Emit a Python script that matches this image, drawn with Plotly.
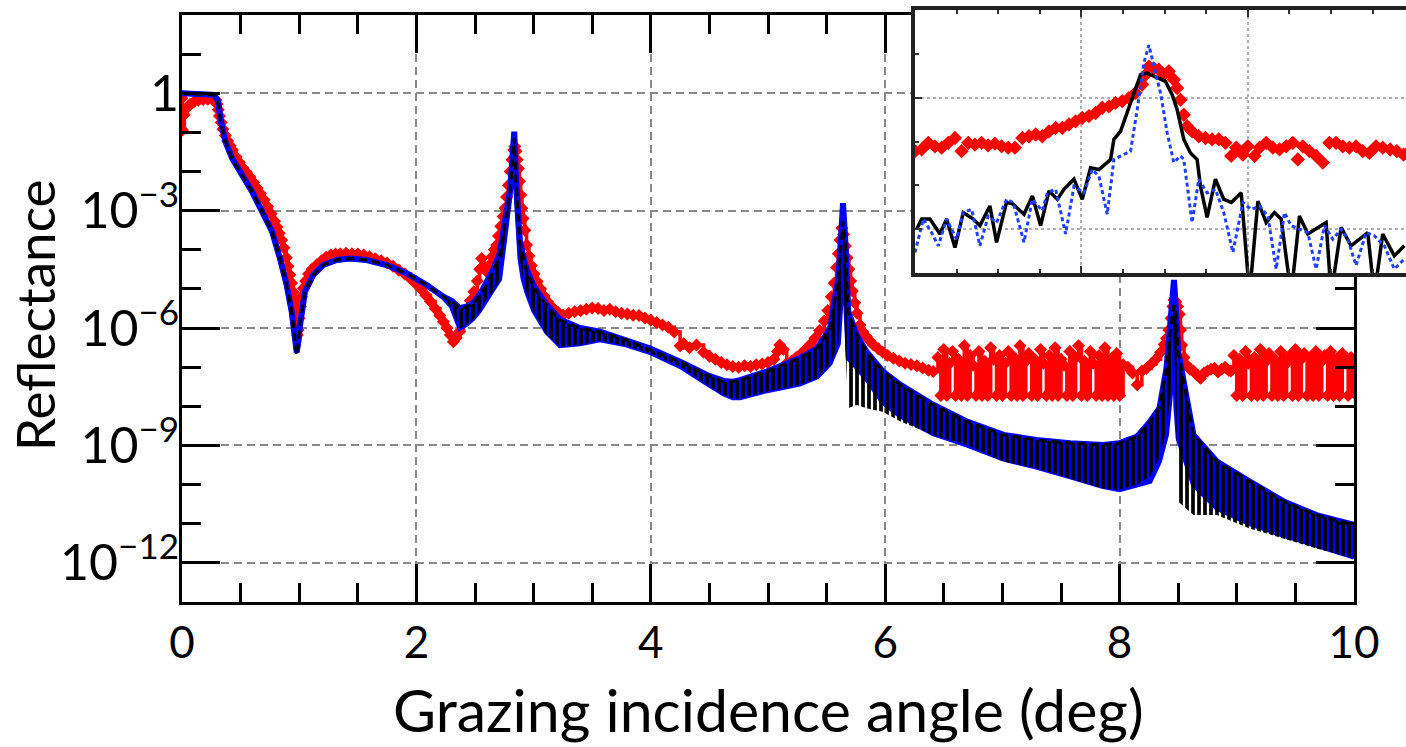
import plotly.graph_objects as go

# ---------------- data: (angle in deg, log10 reflectance) ----------------
# measured reflectance (red diamonds)
RED = [
    (0.000, -0.13), (0.004, -0.94), (0.02, -0.55), (0.04, -0.38), (0.07, -0.28), (0.10, -0.22),
    (0.14, -0.18), (0.18, -0.16), (0.22, -0.15), (0.26, -0.15), (0.29, -0.18), (0.30, -0.28),
    (0.31, -0.42), (0.32, -0.58), (0.335, -0.75), (0.35, -0.92), (0.37, -1.08), (0.39, -1.22),
    (0.41, -1.34), (0.43, -1.45), (0.46, -1.62), (0.49, -1.77), (0.52, -1.91), (0.55, -2.02),
    (0.58, -2.14), (0.61, -2.28), (0.64, -2.42), (0.67, -2.57), (0.70, -2.72), (0.73, -2.90),
    (0.76, -3.08), (0.79, -3.27), (0.81, -3.42), (0.83, -3.58), (0.85, -3.75), (0.87, -3.95),
    (0.89, -4.20), (0.905, -4.42), (0.92, -4.64), (0.935, -4.85), (0.95, -5.08), (0.96, -5.28),
    (0.97, -5.55), (0.98, -5.95), (0.985, -6.18), (0.99, -6.05), (1.00, -5.75), (1.01, -5.45),
    (1.02, -5.20), (1.035, -4.98), (1.055, -4.80), (1.08, -4.62), (1.11, -4.50), (1.15, -4.38),
    (1.19, -4.28), (1.23, -4.19), (1.27, -4.13), (1.31, -4.11), (1.35, -4.10), (1.40, -4.09),
    (1.45, -4.10), (1.50, -4.11), (1.55, -4.13), (1.60, -4.18), (1.65, -4.23), (1.70, -4.28),
    (1.75, -4.34), (1.80, -4.42), (1.85, -4.52), (1.90, -4.62), (1.95, -4.74), (2.00, -4.88),
    (2.04, -5.01), (2.08, -5.16), (2.12, -5.32), (2.16, -5.50), (2.20, -5.68), (2.23, -5.84),
    (2.26, -6.00), (2.29, -6.18), (2.315, -6.35), (2.34, -6.25), (2.37, -6.09), (2.40, -5.85),
    (2.43, -5.58), (2.46, -5.30), (2.49, -5.07), (2.52, -4.80), (2.54, -4.50), (2.557, -4.22),
    (2.575, -4.40), (2.60, -4.56), (2.62, -4.40), (2.645, -4.18), (2.665, -4.00), (2.685, -3.88),
    (2.70, -3.65), (2.72, -3.40), (2.74, -3.15), (2.756, -2.94), (2.77, -2.65), (2.785, -2.35),
    (2.80, -2.00), (2.815, -1.70), (2.83, -1.45), (2.84, -1.36), (2.85, -1.48), (2.86, -1.70),
    (2.87, -1.92), (2.88, -2.25), (2.89, -2.60), (2.90, -2.94), (2.91, -3.20), (2.925, -3.50),
    (2.94, -3.88), (2.96, -4.15), (2.98, -4.40), (3.005, -4.62), (3.03, -4.81), (3.06, -5.00),
    (3.09, -5.18), (3.12, -5.33), (3.15, -5.45), (3.18, -5.54), (3.21, -5.60), (3.25, -5.67),
    (3.30, -5.62), (3.35, -5.58), (3.40, -5.56), (3.45, -5.52), (3.50, -5.49), (3.55, -5.50),
    (3.60, -5.55), (3.65, -5.52), (3.70, -5.58), (3.75, -5.62), (3.80, -5.64), (3.85, -5.67),
    (3.90, -5.68), (3.95, -5.74), (4.00, -5.80), (4.05, -5.86), (4.10, -5.92), (4.15, -5.98),
    (4.20, -6.10), (4.25, -6.45), (4.28, -6.40), (4.33, -6.50), (4.39, -6.43), (4.45, -6.62),
    (4.50, -6.72), (4.55, -6.80), (4.60, -6.88), (4.65, -6.94), (4.70, -6.98), (4.75, -7.00),
    (4.80, -6.96), (4.85, -6.98), (4.90, -6.94), (4.95, -6.92), (5.00, -6.88), (5.05, -6.80),
    (5.08, -6.60), (5.10, -6.43), (5.13, -6.55), (5.16, -6.90), (5.20, -6.85), (5.24, -6.75),
    (5.28, -6.66), (5.32, -6.55), (5.36, -6.42), (5.40, -6.26), (5.44, -6.06), (5.48, -5.82),
    (5.51, -5.55), (5.54, -5.20), (5.565, -4.85), (5.585, -4.45), (5.60, -4.10), (5.615, -3.75),
    (5.63, -3.45), (5.645, -3.60), (5.66, -3.90), (5.675, -4.20), (5.69, -4.50), (5.705, -4.80),
    (5.72, -5.05), (5.74, -5.35), (5.76, -5.62), (5.785, -5.92), (5.81, -6.10), (5.84, -6.22),
    (5.87, -6.33), (5.90, -6.43), (5.94, -6.53), (5.98, -6.62), (6.02, -6.70), (6.07, -6.77),
    (6.12, -6.84), (6.17, -6.90), (6.22, -6.93), (6.27, -6.96), (6.32, -7.02), (6.37, -7.08),
    (6.41, -7.11),
    (6.450, -6.75), (6.475, -7.72), (6.500, -6.55), (6.525, -7.72), (6.550, -6.90), (6.575, -6.60),
    (6.600, -7.72), (6.625, -6.80), (6.650, -7.72), (6.675, -6.45), (6.700, -7.72), (6.725, -6.70),
    (6.750, -6.95), (6.775, -7.72), (6.800, -6.60), (6.825, -7.72), (6.850, -6.85), (6.875, -7.72),
    (6.900, -6.50), (6.925, -6.80), (6.950, -7.72), (6.975, -6.70), (7.000, -7.72), (7.025, -6.90),
    (7.050, -6.60), (7.075, -7.72), (7.100, -6.75), (7.125, -7.72), (7.150, -6.45), (7.175, -7.72),
    (7.200, -6.85), (7.225, -6.65), (7.250, -7.72), (7.275, -6.80), (7.300, -7.72), (7.325, -6.55),
    (7.350, -6.90), (7.375, -7.72), (7.400, -6.70), (7.425, -7.72), (7.450, -6.50), (7.475, -7.72),
    (7.500, -6.80), (7.525, -6.95), (7.550, -7.72), (7.575, -6.60), (7.600, -7.72), (7.625, -6.75),
    (7.650, -6.45), (7.675, -7.72), (7.700, -6.85), (7.725, -7.72), (7.750, -6.60), (7.775, -6.90),
    (7.800, -7.72), (7.825, -6.70), (7.850, -7.72), (7.875, -6.50), (7.900, -7.72), (7.925, -6.80),
    (7.950, -7.72), (7.975, -6.65), (8.000, -7.72),
    (8.03, -6.94), (8.07, -7.00), (8.11, -7.15), (8.15, -7.45), (8.19, -7.10), (8.23, -7.03),
    (8.27, -6.92), (8.31, -6.80), (8.35, -6.62), (8.38, -6.42), (8.40, -6.26), (8.42, -6.05),
    (8.44, -5.75), (8.455, -5.45), (8.465, -5.28), (8.48, -5.33), (8.495, -5.45), (8.51, -5.65),
    (8.52, -6.05), (8.53, -6.43), (8.55, -6.75), (8.57, -6.94), (8.60, -7.05), (8.63, -7.10),
    (8.66, -7.20), (8.69, -7.28), (8.72, -7.15), (8.75, -7.10), (8.78, -7.05), (8.81, -7.03),
    (8.84, -7.12), (8.87, -7.05), (8.90, -7.00), (8.93, -7.08), (8.95, -7.10),
    (8.975, -6.70), (9.000, -7.72), (9.025, -6.80), (9.050, -7.72), (9.075, -6.60), (9.100, -6.90),
    (9.125, -7.72), (9.150, -6.75), (9.175, -7.72), (9.200, -6.55), (9.225, -7.72), (9.250, -6.85),
    (9.275, -6.65), (9.300, -7.72), (9.325, -6.80), (9.350, -7.72), (9.375, -6.60), (9.400, -7.72),
    (9.425, -6.90), (9.450, -6.70), (9.475, -7.72), (9.500, -6.55), (9.525, -7.72), (9.550, -6.80),
    (9.575, -6.65), (9.600, -7.72), (9.625, -6.75), (9.650, -7.72), (9.675, -6.60), (9.700, -7.72),
    (9.725, -6.85), (9.750, -6.70), (9.775, -7.72), (9.800, -6.60), (9.825, -7.72), (9.850, -6.80),
    (9.875, -7.72), (9.900, -6.65), (9.925, -6.90), (9.950, -7.72), (9.975, -6.75), (10.0, -7.65),
]

# simulation 1 (blue, solid): (angle, upper envelope, lower envelope of the fringes)
BLUE = [
    (0.00, 0.00, 0.00), (0.10, -0.01, -0.01), (0.20, -0.02, -0.02), (0.27, -0.04, -0.04),
    (0.30, -0.15, -0.15), (0.313, -0.30, -0.30), (0.327, -0.64, -0.64), (0.341, -0.89, -0.89),
    (0.37, -1.23, -1.23), (0.427, -1.66, -1.66), (0.512, -2.09, -2.09), (0.597, -2.51, -2.51),
    (0.683, -3.02, -3.02), (0.768, -3.53, -3.53), (0.836, -4.22, -4.22), (0.893, -4.90, -4.90),
    (0.936, -5.58, -5.58), (0.964, -6.35, -6.35), (0.979, -6.62, -6.62), (0.995, -6.30, -6.30),
    (1.007, -5.92, -5.92), (1.049, -5.07, -5.07), (1.12, -4.64, -4.64), (1.206, -4.39, -4.39),
    (1.32, -4.26, -4.26), (1.433, -4.22, -4.22), (1.576, -4.26, -4.26), (1.746, -4.39, -4.39),
    (1.917, -4.60, -4.60), (2.088, -4.90, -4.90), (2.23, -5.20, -5.22),
    (2.30, -5.30, -5.45), (2.37, -5.49, -6.00), (2.43, -5.45, -5.90), (2.486, -5.35, -5.75),
    (2.54, -5.15, -5.55), (2.60, -4.85, -5.24), (2.656, -4.50, -5.00), (2.71, -4.10, -4.75),
    (2.742, -3.53, -3.95), (2.78, -2.90, -3.20), (2.80, -2.45, -2.60), (2.82, -1.60, -1.80),
    (2.835, -0.98, -1.30), (2.85, -2.20, -2.50), (2.87, -3.20, -3.60), (2.884, -3.80, -4.22),
    (2.91, -4.13, -4.73), (2.941, -4.50, -5.07), (3.00, -4.92, -5.55), (3.11, -5.40, -6.10),
    (3.225, -5.78, -6.45), (3.396, -6.00, -6.40), (3.567, -6.09, -6.30), (3.79, -6.30, -6.43),
    (3.99, -6.52, -6.62), (4.25, -6.86, -6.98), (4.48, -7.20, -7.42), (4.62, -7.35, -7.68),
    (4.70, -7.37, -7.78), (4.76, -7.33, -7.78), (4.99, -7.11, -7.60), (5.27, -6.77, -7.43),
    (5.42, -6.52, -7.25), (5.53, -6.00, -6.90), (5.60, -4.73, -6.40), (5.625, -3.60, -5.20),
    (5.64, -2.81, -3.80), (5.66, -3.80, -5.50), (5.685, -5.58, -6.77), (5.757, -6.18, -7.00),
    (5.84, -6.60, -7.30), (5.98, -7.11, -7.90), (6.13, -7.45, -8.25), (6.41, -7.96, -8.70),
    (6.70, -8.39, -8.99), (7.01, -8.73, -9.35), (7.29, -8.86, -9.55), (7.58, -8.94, -9.80),
    (7.86, -8.99, -10.05), (8.00, -8.94, -10.13), (8.15, -8.77, -10.00), (8.26, -8.39, -9.92),
    (8.34, -8.05, -9.41), (8.40, -7.03, -8.73), (8.44, -5.75, -7.50), (8.464, -4.77, -6.00),
    (8.48, -5.50, -8.00), (8.50, -6.60, -8.82), (8.63, -8.73, -10.00), (8.83, -9.41, -10.60),
    (9.11, -9.92, -11.00), (9.40, -10.43, -11.30), (9.68, -10.78, -11.55), (10.0, -11.03, -11.85),
]

# simulation 2 (black, dashed): (angle, upper envelope, lower envelope of the fringes)
BLACK = [
    (0.00, 0.00, 0.00), (0.10, -0.01, -0.01), (0.20, -0.02, -0.02), (0.27, -0.04, -0.04),
    (0.30, -0.15, -0.15), (0.313, -0.30, -0.30), (0.327, -0.64, -0.64), (0.341, -0.89, -0.89),
    (0.37, -1.23, -1.23), (0.427, -1.66, -1.66), (0.512, -2.09, -2.09), (0.597, -2.51, -2.51),
    (0.683, -3.02, -3.02), (0.768, -3.53, -3.53), (0.836, -4.22, -4.22), (0.893, -4.90, -4.90),
    (0.936, -5.58, -5.58), (0.964, -6.35, -6.35), (0.979, -6.69, -6.69), (0.995, -6.30, -6.30),
    (1.007, -5.92, -5.92), (1.049, -5.07, -5.07), (1.12, -4.64, -4.64), (1.206, -4.39, -4.39),
    (1.32, -4.26, -4.26), (1.433, -4.22, -4.22), (1.576, -4.26, -4.26), (1.746, -4.39, -4.39),
    (1.917, -4.60, -4.60), (2.088, -4.90, -4.90), (2.23, -5.20, -5.22),
    (2.30, -5.32, -5.50), (2.37, -5.50, -6.02), (2.43, -5.45, -5.92), (2.486, -5.38, -5.78),
    (2.54, -5.18, -5.57), (2.60, -4.88, -5.26), (2.656, -4.55, -5.05), (2.71, -4.15, -4.78),
    (2.742, -3.60, -3.98), (2.78, -2.95, -3.25), (2.80, -2.50, -2.65), (2.82, -1.70, -1.90),
    (2.835, -1.15, -1.40), (2.85, -2.30, -2.60), (2.87, -3.30, -3.70), (2.884, -3.85, -4.25),
    (2.91, -4.15, -4.75), (2.941, -4.55, -5.10), (3.00, -4.95, -5.58), (3.11, -5.42, -6.18),
    (3.225, -5.80, -6.47), (3.396, -6.00, -6.43), (3.567, -6.10, -6.32), (3.79, -6.30, -6.45),
    (3.99, -6.55, -6.64), (4.25, -6.86, -6.98), (4.48, -7.20, -7.45), (4.62, -7.37, -7.71),
    (4.70, -7.37, -7.80), (4.76, -7.33, -7.80), (4.99, -7.11, -7.62), (5.27, -6.77, -7.45),
    (5.42, -6.52, -7.28), (5.53, -6.00, -6.94), (5.60, -4.80, -6.43), (5.625, -3.70, -5.30),
    (5.64, -3.28, -3.90), (5.66, -3.90, -6.50), (5.685, -5.58, -8.05), (5.757, -6.18, -7.96),
    (5.84, -6.60, -8.05), (5.98, -7.11, -8.14), (6.13, -7.45, -8.39), (6.41, -7.96, -8.73),
    (6.70, -8.39, -8.99), (7.01, -8.73, -9.41), (7.29, -8.86, -9.58), (7.58, -8.94, -9.84),
    (7.86, -8.99, -10.10), (8.00, -8.94, -10.13), (8.15, -8.77, -10.00), (8.26, -8.39, -9.80),
    (8.34, -8.05, -9.30), (8.40, -7.03, -8.60), (8.44, -5.90, -7.60), (8.464, -5.41, -6.20),
    (8.48, -5.60, -8.40), (8.50, -6.60, -10.43), (8.63, -8.73, -10.78), (8.83, -9.41, -10.78),
    (9.11, -9.92, -11.12), (9.40, -10.43, -11.37), (9.68, -10.78, -11.63), (10.0, -11.03, -11.88),
]

# inset: zoom on the third Bragg peak
INSET_RED = [
    (8.200, -7.22), (8.208, -7.18), (8.216, -7.03), (8.224, -7.11), (8.232, -7.14), (8.240, -7.03),
    (8.248, -6.92), (8.256, -7.22), (8.264, -7.03), (8.272, -7.07), (8.280, -7.03), (8.288, -7.09),
    (8.296, -7.05), (8.304, -7.11), (8.312, -7.14), (8.320, -7.14), (8.329, -6.92), (8.337, -6.88),
    (8.345, -6.84), (8.353, -6.88), (8.361, -6.77), (8.369, -6.69), (8.377, -6.69), (8.385, -6.61),
    (8.393, -6.54), (8.401, -6.46), (8.409, -6.42), (8.417, -6.35), (8.425, -6.23), (8.433, -6.20),
    (8.441, -6.12), (8.449, -6.08), (8.457, -6.01), (8.465, -5.89), (8.473, -5.70), (8.477, -5.48),
    (8.481, -5.29), (8.487, -5.33), (8.493, -5.36), (8.499, -5.48), (8.505, -5.40), (8.511, -5.59),
    (8.515, -5.78), (8.519, -6.05), (8.523, -6.39), (8.527, -6.65), (8.533, -6.77), (8.541, -6.88),
    (8.549, -6.92), (8.557, -6.95), (8.565, -6.95), (8.573, -7.03), (8.580, -7.33), (8.586, -7.14),
    (8.594, -7.30), (8.600, -7.11), (8.608, -7.33), (8.614, -7.14), (8.622, -7.03), (8.630, -7.14),
    (8.638, -7.18), (8.646, -7.11), (8.654, -7.03), (8.660, -7.41), (8.666, -7.11), (8.674, -7.22),
    (8.682, -7.33), (8.690, -7.48), (8.698, -7.03), (8.706, -7.03), (8.714, -7.11), (8.722, -7.14),
    (8.730, -7.11), (8.738, -7.22), (8.746, -7.26), (8.754, -7.11), (8.762, -7.14), (8.771, -7.18),
    (8.779, -7.22), (8.787, -7.30), (8.792, -7.26),
]
INSET_BLACK = [
    (8.202, -9.00), (8.208, -8.77), (8.218, -8.77), (8.230, -9.11), (8.238, -8.77), (8.248, -9.42),
    (8.258, -8.62), (8.270, -8.77), (8.278, -8.92), (8.290, -8.47), (8.298, -9.30), (8.310, -8.39),
    (8.318, -8.43), (8.331, -8.66), (8.341, -8.24), (8.351, -8.92), (8.361, -8.13), (8.371, -8.32),
    (8.379, -8.09), (8.391, -7.86), (8.401, -8.32), (8.411, -7.60), (8.421, -7.64), (8.435, -7.41),
    (8.439, -6.95), (8.447, -6.77), (8.459, -6.12), (8.471, -5.48), (8.479, -5.44), (8.491, -5.55),
    (8.501, -5.63), (8.509, -5.93), (8.515, -6.27), (8.523, -6.95), (8.531, -7.26), (8.539, -7.41),
    (8.543, -8.02), (8.551, -8.73), (8.561, -7.86), (8.571, -8.32), (8.580, -8.39), (8.592, -8.17),
    (8.602, -10.5), (8.612, -8.36), (8.622, -8.85), (8.632, -8.62), (8.640, -8.77), (8.652, -10.5),
    (8.662, -8.70), (8.672, -9.11), (8.682, -9.00), (8.694, -8.85), (8.700, -10.5), (8.712, -8.96),
    (8.724, -9.38), (8.734, -9.23), (8.744, -9.08), (8.752, -10.5), (8.762, -9.11), (8.776, -9.61),
    (8.788, -9.38),
]
INSET_BLUE = [
    (8.200, -9.53), (8.210, -8.77), (8.220, -9.08), (8.228, -9.38), (8.238, -8.77), (8.250, -9.23),
    (8.258, -8.62), (8.268, -8.55), (8.278, -9.38), (8.288, -8.70), (8.298, -8.85), (8.310, -8.32),
    (8.318, -8.39), (8.331, -9.30), (8.341, -8.32), (8.353, -8.58), (8.359, -8.17), (8.369, -8.09),
    (8.381, -9.11), (8.391, -8.02), (8.403, -8.17), (8.413, -7.64), (8.421, -7.79), (8.431, -8.66),
    (8.439, -7.41), (8.451, -7.30), (8.459, -7.22), (8.467, -6.27), (8.475, -5.21), (8.481, -4.80),
    (8.487, -5.29), (8.495, -5.89), (8.503, -6.80), (8.511, -7.48), (8.519, -7.33), (8.523, -7.41),
    (8.533, -8.85), (8.541, -7.86), (8.551, -8.17), (8.561, -8.09), (8.571, -8.62), (8.582, -9.53),
    (8.594, -8.39), (8.604, -8.55), (8.614, -8.47), (8.624, -8.70), (8.634, -9.91), (8.644, -8.62),
    (8.652, -8.92), (8.662, -9.00), (8.672, -9.08), (8.682, -9.91), (8.692, -8.92), (8.702, -9.23),
    (8.712, -9.00), (8.720, -9.23), (8.730, -9.83), (8.742, -9.08), (8.752, -9.15), (8.764, -9.38),
    (8.776, -9.91), (8.788, -9.68),
]

X_TICKS = [0, 2, 4, 6, 8, 10]
X_TITLE = "Grazing incidence angle (deg)"
Y_TITLE = "Reflectance"


def col(rows, i, log=False):
    vals = [r[i] for r in rows]
    return [10 ** v for v in vals] if log else vals


FONT = "Lato"
BLUE_C = "#0000ff"
RED_C = "#ff0000"

fig = go.Figure()

# measured data
fig.add_trace(go.Scatter(
    x=col(RED, 0), y=col(RED, 1, True), mode="lines+markers",
    line=dict(color=RED_C, width=3.5, shape="hv"),
    marker=dict(symbol="diamond", size=10, color=RED_C, line=dict(width=0)),
    showlegend=False))

# blue simulation: upper + lower fringe envelope, filled
fig.add_trace(go.Scatter(x=col(BLUE, 0), y=col(BLUE, 1, True), mode="lines",
                         line=dict(color=BLUE_C, width=6), showlegend=False))
fig.add_trace(go.Scatter(x=col(BLUE, 0), y=col(BLUE, 2, True), mode="lines",
                         line=dict(color=BLUE_C, width=5), fill="tonexty",
                         fillcolor=BLUE_C, showlegend=False))

# black dashed simulation: fringes rendered as vertical dash hatching
fig.add_trace(go.Scatter(x=col(BLACK, 0), y=col(BLACK, 1, True), mode="lines",
                         line=dict(color="black", width=0), showlegend=False))
fig.add_trace(go.Scatter(x=col(BLACK, 0), y=col(BLACK, 2, True), mode="lines",
                         line=dict(color="black", width=0), fill="tonexty",
                         fillcolor="rgba(0,0,0,0)",
                         fillpattern=dict(shape="|", fgcolor="black", bgcolor="rgba(0,0,0,0)",
                                          fgopacity=1, size=6, solidity=0.62),
                         showlegend=False))
fig.add_trace(go.Scatter(x=col(BLACK, 0), y=col(BLACK, 1, True), mode="lines",
                         line=dict(color="black", width=3, dash="8px,5px"), showlegend=False))

# inset
fig.add_trace(go.Scatter(x=col(INSET_RED, 0), y=col(INSET_RED, 1, True), mode="markers",
                         marker=dict(symbol="diamond", size=11, color=RED_C, line=dict(width=0)),
                         xaxis="x2", yaxis="y2", showlegend=False))
fig.add_trace(go.Scatter(x=col(INSET_BLACK, 0), y=col(INSET_BLACK, 1, True), mode="lines",
                         line=dict(color="black", width=3.5),
                         xaxis="x2", yaxis="y2", showlegend=False))
fig.add_trace(go.Scatter(x=col(INSET_BLUE, 0), y=col(INSET_BLUE, 1, True), mode="lines",
                         line=dict(color="#2040ff", width=3, dash="4px,3px"),
                         xaxis="x2", yaxis="y2", showlegend=False))

W, H = 1406, 747
L, B = 182, 145
PW, PH = W - L, H - B          # plot area 1224 x 602
x_dom_end = (1354 - L) / PW
y_dom_end = (602 - 15) / PH

grid = dict(showgrid=True, gridcolor="#8a8a8a", gridwidth=2, griddash="8px,5px")

fig.update_layout(
    width=W, height=H,
    margin=dict(l=L, r=0, t=0, b=B, autoexpand=False),
    paper_bgcolor="white", plot_bgcolor="white",
    font=dict(family=FONT, color="black"),
    xaxis=dict(domain=[0, x_dom_end], range=[0, 10], anchor="y", automargin=False,
               tickvals=X_TICKS, ticks="inside", ticklen=38, tickwidth=2.5, tickcolor="black",
               showline=True, linewidth=3, linecolor="black", mirror="ticks", zeroline=False,
               tickfont=dict(family=FONT, size=44), ticklabelstandoff=0,
               minor=dict(dtick=0.5, ticks="inside", ticklen=19, tickwidth=2.5,
                          tickcolor="black", showgrid=False),
               **grid),
    yaxis=dict(domain=[0, y_dom_end], type="log", range=[-13, 2], anchor="x", automargin=False,
               dtick=3, exponentformat="power",
               ticks="inside", ticklen=38, tickwidth=2.5, tickcolor="black",
               showline=True, linewidth=3, linecolor="black", mirror="ticks", zeroline=False,
               tickfont=dict(family=FONT, size=40), ticklabelstandoff=-8,
               minor=dict(dtick=1, ticks="inside", ticklen=19, tickwidth=2.5,
                          tickcolor="black", showgrid=False),
               **grid),
    xaxis2=dict(domain=[(915 - L) / PW, 1.0], range=[8.2, 8.79], anchor="y2", automargin=False,
                dtick=0.2, tick0=8.0, showticklabels=False,
                ticks="inside", ticklen=7, tickwidth=1.5, tickcolor="#333",
                showline=True, linewidth=3.5, linecolor="#222", mirror="ticks", zeroline=False,
                showgrid=True, gridcolor="#b0b0b0", gridwidth=2, griddash="dot",
                minor=dict(dtick=0.05, ticks="inside", ticklen=4, tickwidth=1.5,
                           tickcolor="#333", showgrid=False)),
    yaxis2=dict(domain=[(602 - 273) / PH, (602 - 10) / PH], type="log", range=[-10, -4],
                anchor="x2", dtick=3, showticklabels=False, automargin=False,
                ticks="inside", ticklen=7, tickwidth=1.5, tickcolor="#333",
                showline=True, linewidth=3.5, linecolor="#222", mirror=False, zeroline=False,
                showgrid=True, gridcolor="#b0b0b0", gridwidth=2, griddash="dot",
                minor=dict(dtick=1, ticks="inside", ticklen=4, tickwidth=1.5,
                           tickcolor="#333", showgrid=False)),
    annotations=[
        dict(text=X_TITLE, xref="paper", yref="paper", x=x_dom_end / 2, y=-0.178,
             xanchor="center", yanchor="middle", showarrow=False,
             font=dict(family=FONT, size=59, color="black")),
        dict(text=Y_TITLE, xref="paper", yref="paper", x=(34 - L) / PW, y=(602 - 316) / PH,
             xanchor="center", yanchor="middle", showarrow=False, textangle=-90,
             font=dict(family=FONT, size=53, color="black")),
    ],
)

fig.write_html("out.html")
